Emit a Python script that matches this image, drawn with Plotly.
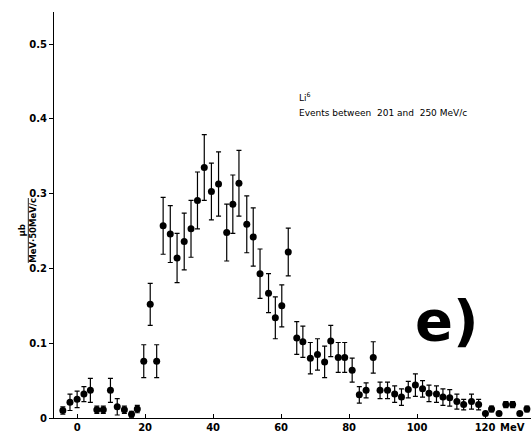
import plotly.graph_objects as go

# Data (energy in MeV, cross section in µb/(MeV·50 MeV/c))
energy = [-4.2, -2.1, 0.0, 2.0, 3.9, 5.8, 7.7, 9.8, 11.8, 13.9, 16.0, 17.7,
          19.6, 21.5, 23.4, 25.3, 27.4, 29.4, 31.5, 33.5, 35.4, 37.4, 39.5, 41.6,
          44.0, 45.8, 47.6, 49.9, 51.8, 53.8, 56.3, 58.3, 60.2, 62.1, 64.6, 66.4,
          68.6, 70.7, 72.8, 74.6, 76.8, 78.7, 80.9, 83.0, 85.0, 87.1, 89.1, 91.3,
          93.4, 95.4, 97.4, 99.5, 101.6, 103.5, 105.7, 107.6, 109.6, 111.7, 113.7, 116.0,
          118.1, 120.1, 121.9, 124.1, 126.1, 128.1, 130.2, 132.3]
value = [0.010, 0.021, 0.025, 0.032, 0.037, 0.011, 0.011, 0.037, 0.015, 0.011, 0.005, 0.012,
         0.076, 0.152, 0.076, 0.257, 0.246, 0.214, 0.236, 0.253, 0.291, 0.335, 0.303, 0.313,
         0.248, 0.286, 0.314, 0.259, 0.242, 0.193, 0.167, 0.134, 0.150, 0.222, 0.107, 0.102,
         0.080, 0.085, 0.075, 0.103, 0.081, 0.081, 0.064, 0.031, 0.037, 0.081, 0.037, 0.037,
         0.032, 0.028, 0.038, 0.044, 0.039, 0.033, 0.032, 0.028, 0.027, 0.022, 0.018, 0.022,
         0.018, 0.006, 0.012, 0.006, 0.018, 0.018, 0.006, 0.012]
error = [0.005, 0.011, 0.011, 0.010, 0.016, 0.005, 0.005, 0.016, 0.011, 0.005, 0.004, 0.005,
         0.022, 0.028, 0.022, 0.038, 0.038, 0.033, 0.038, 0.038, 0.038, 0.044, 0.038, 0.043,
         0.038, 0.039, 0.044, 0.038, 0.039, 0.033, 0.026, 0.028, 0.028, 0.032, 0.022, 0.021,
         0.021, 0.021, 0.021, 0.021, 0.020, 0.020, 0.016, 0.011, 0.010, 0.021, 0.011, 0.011,
         0.011, 0.011, 0.011, 0.015, 0.011, 0.011, 0.011, 0.011, 0.011, 0.010, 0.007, 0.010,
         0.007, 0.0, 0.004, 0.0, 0.004, 0.004, 0.0, 0.004]

x_ticks = [0, 20, 40, 60, 80, 100, 120]
x_tick_labels = ["0", "20", "40", "60", "80", "100", "120"]
y_ticks = [0, 0.1, 0.2, 0.3, 0.4, 0.5]
y_tick_labels = ["0", "0.1", "0.2", "0.3", "0.4", "0.5"]

FONT = "DejaVu Sans"

fig = go.Figure()
fig.add_trace(go.Scatter(
    x=energy, y=value, mode="markers",
    marker=dict(color="black", size=7, symbol="circle"),
    error_y=dict(type="data", array=error, visible=True, color="black",
                 thickness=1.2, width=2.5),
    cliponaxis=False, showlegend=False,
))

fig.update_layout(
    width=531, height=432,
    margin=dict(l=54, r=0, t=12, b=14),
    paper_bgcolor="white", plot_bgcolor="white",
    font=dict(family=FONT, color="black", size=10),
    xaxis=dict(range=[-6.8, 133.5], showgrid=False, zeroline=False,
               showline=True, linecolor="black", linewidth=1.2,
               tickmode="array", tickvals=x_ticks, ticktext=x_tick_labels,
               ticks="inside", ticklen=4, tickcolor="black",
               tickfont=dict(family=FONT, size=10, weight="bold")),
    yaxis=dict(range=[0, 0.543], showgrid=False, zeroline=False,
               showline=True, linecolor="black", linewidth=1.2,
               tickmode="array", tickvals=y_ticks, ticktext=y_tick_labels,
               ticks="outside", ticklen=4, tickcolor="black",
               tickfont=dict(family=FONT, size=10, weight="bold")),
)

fig.add_annotation(x=128, y=0, xref="x", yref="y", yshift=-9, text="<b>MeV</b>",
                   showarrow=False, font=dict(family=FONT, size=10))
fig.add_annotation(x=0.509, y=0.791, xref="paper", yref="paper",
                   xanchor="left", yanchor="middle",
                   text="Li<sup>6</sup>", showarrow=False,
                   font=dict(family=FONT, size=9))
fig.add_annotation(x=0.509, y=0.751, xref="paper", yref="paper",
                   xanchor="left", yanchor="middle",
                   text="Events between  201 and  250 MeV/c", showarrow=False,
                   font=dict(family=FONT, size=9))
fig.add_annotation(x=0.824, y=0.241, xref="paper", yref="paper",
                   xanchor="center", yanchor="middle",
                   text="<b>e)</b>", showarrow=False,
                   font=dict(family=FONT, size=56))
fig.add_annotation(x=-0.057, y=0.463, xref="paper", yref="paper",
                   xanchor="center", yanchor="middle", textangle=-90,
                   text="<b>µb</b><br><b><span style='text-decoration:overline'>MeV·50MeV/c</span></b>",
                   showarrow=False, font=dict(family=FONT, size=8.5))

fig.write_html("out.html")
